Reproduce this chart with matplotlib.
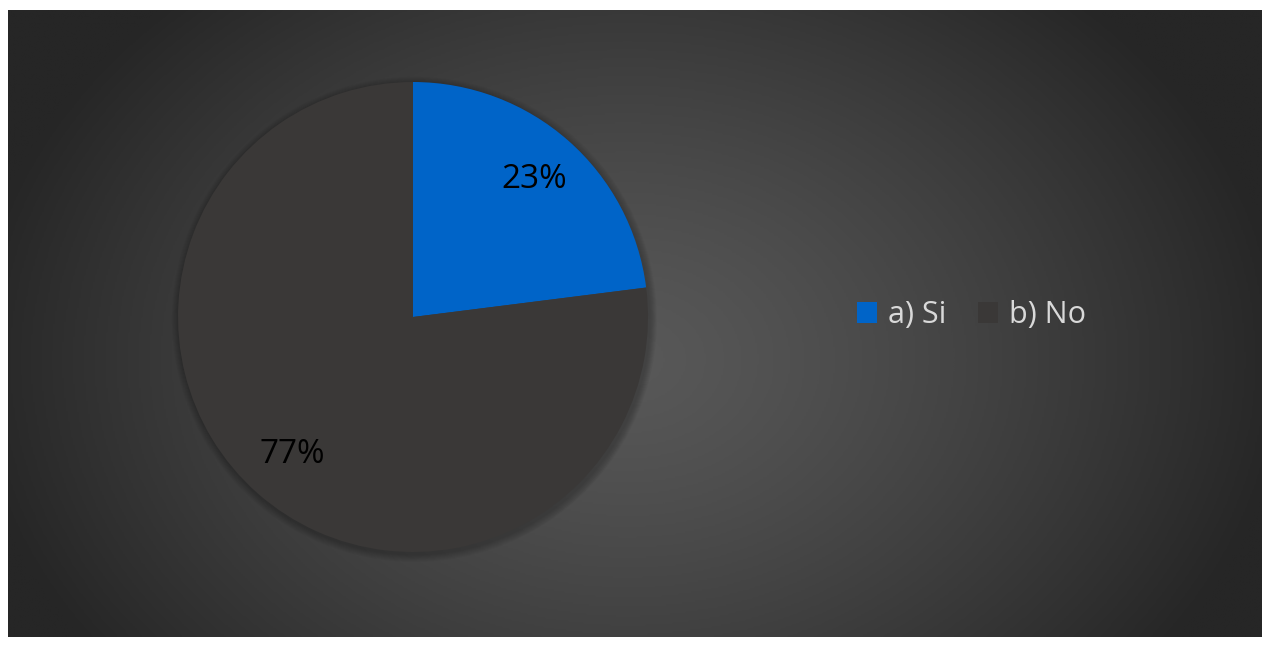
import numpy as np
import matplotlib
matplotlib.use("Agg")
import matplotlib.pyplot as plt
from matplotlib.patches import Circle
from matplotlib.colors import LinearSegmentedColormap

plt.rcParams['font.family'] = ['Open Sans', 'DejaVu Sans']

labels = ["a) Si", "b) No"]
values = [23, 77]
colors = ["#0064C8", "#3A3837"]

W, H, DPI = 1267, 646, 100
fig = plt.figure(figsize=(W / DPI, H / DPI), dpi=DPI, facecolor="white")

# Dark chart area with a radial gradient
bg = fig.add_axes([8 / W, 1 - 637 / H, (1262 - 8) / W, (637 - 10) / H])
bg.set_axis_off()
xs = np.linspace(0, 1254, 700)
ys = np.linspace(0, 627, 350)
X, Y = np.meshgrid(xs, ys)
cx, cy, rx, ry = 620, 350, 660, 500
t = np.clip(np.hypot((X - cx) / rx, (Y - cy) / ry), 0, 1) ** 1.3
cmap = LinearSegmentedColormap.from_list("bg", ["#585858", "#262626"])
bg.imshow(t, cmap=cmap, vmin=0, vmax=1, aspect="auto",
          extent=[0, 1254, 627, 0], interpolation="bilinear")
bg.set_xlim(0, 1254)
bg.set_ylim(627, 0)

# Pie axes
pcx, pcy, R = 413, 317, 235
size = 2 * R * 1.1
ax = fig.add_axes([(pcx - size / 2) / W, 1 - (pcy + size / 2) / H, size / W, size / H])
ax.set_aspect("equal")
ax.set_axis_off()

# soft shadow under the pie
for i in range(8):
    ax.add_patch(Circle((0.006, -0.010), 1.0 + 0.004 * (8 - i),
                        facecolor="black", edgecolor="none", alpha=0.028, zorder=0))

wedges, texts, autotexts = ax.pie(
    values, colors=colors, startangle=90, counterclock=False,
    autopct=lambda p: f"{p:.0f}%", pctdistance=0.78, radius=1.0,
    wedgeprops=dict(linewidth=0, edgecolor="none"),
    textprops=dict(color="black", fontsize=24),
)
ax.set_xlim(-1.1, 1.1)
ax.set_ylim(-1.1, 1.1)

leg = fig.legend(wedges, labels, loc="center left",
                 bbox_to_anchor=(857 / W, 1 - 315 / H), ncol=2, frameon=False,
                 fontsize=22, handlelength=0.66, handleheight=0.66,
                 handletextpad=0.35, columnspacing=1.05, borderaxespad=0,
                 borderpad=0)
for txt in leg.get_texts():
    txt.set_color("#D9D9D9")

fig.savefig("out.png", dpi=DPI, facecolor="white")
